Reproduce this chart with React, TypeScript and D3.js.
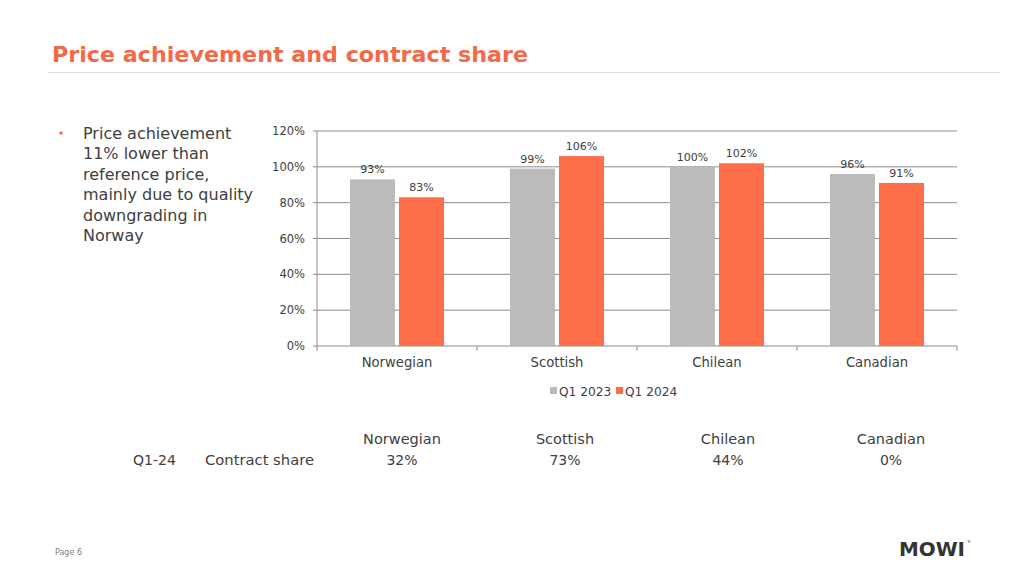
import React from "react";
import * as d3 from "d3";

const categories = ["Norwegian", "Scottish", "Chilean", "Canadian"];
const seriesNames = ["Q1 2023", "Q1 2024"];
const q12023 = [93, 99, 100, 96];
const q12024 = [83, 106, 102, 91];
const yTicks = [0, 20, 40, 60, 80, 100, 120];
const contractShare = [32, 73, 44, 0];
const bulletLines = [
  "Price achievement",
  "11% lower than",
  "reference price,",
  "mainly due to quality",
  "downgrading in",
  "Norway",
];

const W = 1024;
const H = 576;
const FONT = "'DejaVu Sans', sans-serif";
const ORANGE = "#FF6E4A";
const GRAY = "#BBBBBB";
const TEXT = "#404040";

export default function App() {
  const left = 317;
  const right = 957;
  const top = 131;
  const bottom = 346;

  const x0 = d3.scaleBand<string>().domain(categories).range([left, right]).padding(0);
  const x1 = d3
    .scaleBand<string>()
    .domain(seriesNames)
    .range([33, 127])
    .paddingInner(0.0816)
    .paddingOuter(0);
  const y = d3.scaleLinear().domain([0, 120]).range([bottom, top]);
  const series = [q12023, q12024];
  const colors = [GRAY, ORANGE];

  return (
    <svg
      width={W}
      height={H}
      style={{ position: "absolute", left: 0, top: 0, background: "#fff" }}
      fontFamily={FONT}
    >
      {/* Title */}
      <text x={52} y={62} fontSize={21.5} fontWeight="bold" fill="#F26A47" textLength={476} lengthAdjust="spacingAndGlyphs">
        Price achievement and contract share
      </text>
      <line x1={48} x2={1000} y1={72.5} y2={72.5} stroke="#DDDDDD" strokeWidth={1} />

      {/* Bullet */}
      <circle cx={61} cy={133} r={1.8} fill={ORANGE} />
      {bulletLines.map((t, i) => (
        <text key={i} x={83} y={139 + i * 20.4} fontSize={16} fill={TEXT}>
          {t}
        </text>
      ))}

      {/* Gridlines */}
      {yTicks.map((t) => (
        <g key={t}>
          <line x1={left} x2={right} y1={y(t)} y2={y(t)} stroke="#8C8C8C" strokeWidth={1} />
          <line x1={left - 4} x2={left} y1={y(t)} y2={y(t)} stroke="#8C8C8C" strokeWidth={1} />
          <text x={305} y={y(t)} dy="0.35em" textAnchor="end" fontSize={11.5} fill={TEXT}>
            {t}%
          </text>
        </g>
      ))}
      <line x1={left} x2={left} y1={top} y2={bottom} stroke="#8C8C8C" strokeWidth={1} />

      {/* x category ticks */}
      {[...categories.map((c) => x0(c) as number), right].map((xv, i) => (
        <line key={i} x1={xv} x2={xv} y1={bottom} y2={bottom + 5} stroke="#8C8C8C" strokeWidth={1} />
      ))}

      {/* Bars */}
      {categories.map((c, ci) => (
        <g key={c} transform={`translate(${x0(c)},0)`}>
          {seriesNames.map((s, si) => {
            const v = series[si][ci];
            const bx = x1(s) as number;
            return (
              <g key={s}>
                <rect x={bx} y={y(v)} width={x1.bandwidth()} height={bottom - y(v)} fill={colors[si]} />
                <text
                  x={bx + x1.bandwidth() / 2}
                  y={y(v) - 6}
                  textAnchor="middle"
                  fontSize={11}
                  fill={TEXT}
                >
                  {v}%
                </text>
              </g>
            );
          })}
          <text
            x={x0.bandwidth() / 2}
            y={367}
            textAnchor="middle"
            fontSize={13.2}
            fill={TEXT}
          >
            {c}
          </text>
        </g>
      ))}

      {/* Legend */}
      <g>
        <rect x={550} y={387} width={7} height={7} fill={GRAY} />
        <text x={559} y={395.5} fontSize={12.2} fill={TEXT}>
          {seriesNames[0]}
        </text>
        <rect x={616} y={387} width={7} height={7} fill={ORANGE} />
        <text x={625} y={395.5} fontSize={12.2} fill={TEXT}>
          {seriesNames[1]}
        </text>
      </g>

      {/* Contract share table */}
      <text x={133} y={465} fontSize={14} fill={TEXT}>
        Q1-24
      </text>
      <text x={205} y={465} fontSize={14} fill={TEXT} textLength={109} lengthAdjust="spacingAndGlyphs">
        Contract share
      </text>
      {categories.map((c, i) => {
        const cx = 402 + i * 163;
        return (
          <g key={c}>
            <text x={cx} y={444} textAnchor="middle" fontSize={14.5} fill={TEXT}>
              {c}
            </text>
            <text x={cx} y={465} textAnchor="middle" fontSize={14} fill={TEXT}>
              {contractShare[i]}%
            </text>
          </g>
        );
      })}

      {/* Footer */}
      <text x={55} y={555} fontSize={8} fill="#7F7F7F">
        Page 6
      </text>
      <text x={899} y={556} fontSize={20} fontWeight="bold" fill="#333333" textLength={66} lengthAdjust="spacingAndGlyphs">
        MOWI
      </text>
      <text x={967} y={543} fontSize={4} fill="#333333">
        ®
      </text>
    </svg>
  );
}
